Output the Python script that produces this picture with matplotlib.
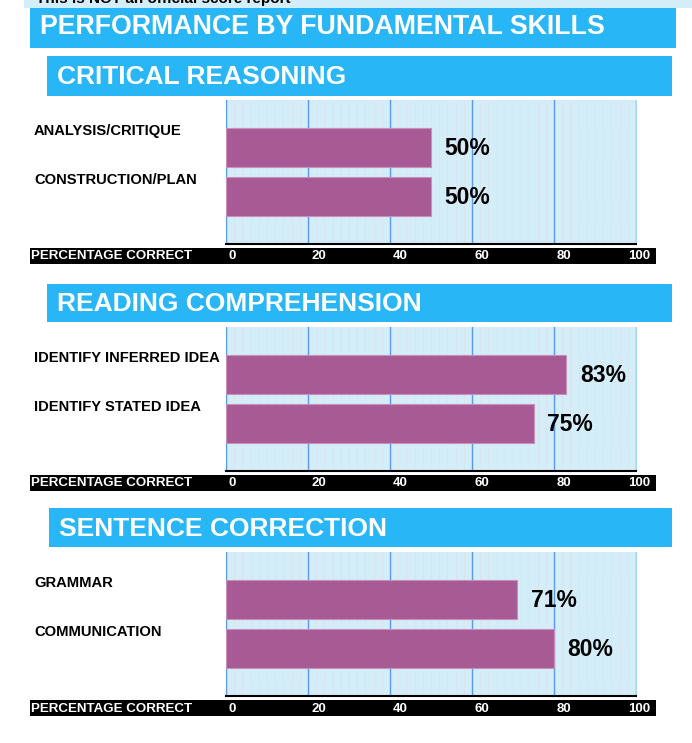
import matplotlib

matplotlib.use("Agg")
import matplotlib.pyplot as plt
from matplotlib.patches import Rectangle
from matplotlib.transforms import blended_transform_factory, offset_copy

W, H = 692, 743

# data
title = "PERFORMANCE BY FUNDAMENTAL SKILLS"
notice = "This is NOT an official score report"
section_titles = ["CRITICAL REASONING", "READING COMPREHENSION", "SENTENCE CORRECTION"]
cr_labels = ["ANALYSIS/CRITIQUE", "CONSTRUCTION/PLAN"]
cr_values = [50, 50]
rc_labels = ["IDENTIFY INFERRED IDEA", "IDENTIFY STATED IDEA"]
rc_values = [83, 75]
sc_labels = ["GRAMMAR", "COMMUNICATION"]
sc_values = [71, 80]
x_ticks = [0, 20, 40, 60, 80, 100]
axis_label = "PERCENTAGE CORRECT"

BANNER = "#29b6f6"
PALE = "#d4eef9"
BAR = "#a85a94"
GRID = "#5b96f0"
BOLD = ["Liberation Sans", "DejaVu Sans"]


def box(x0, y0, x1, y1):
    return [x0 / W, 1 - y1 / H, (x1 - x0) / W, (y1 - y0) / H]


def rect(fig, x0, y0, x1, y1, color):
    l, b, w, h = box(x0, y0, x1, y1)
    fig.patches.append(Rectangle((l, b), w, h, transform=fig.transFigure,
                                 facecolor=color, edgecolor="none", zorder=0))


fig = plt.figure(figsize=(W / 100, H / 100), dpi=100)
fig.patch.set_facecolor("white")

# top notice strip (partly hidden above the top edge, as in the source)
rect(fig, 24, 0, 692, 8, PALE)
fig.text(36 / W, 1 + 1 / H, notice, fontsize=11, fontweight="bold", family=BOLD,
         ha="left", va="center", color="black")

# main banner
rect(fig, 30, 8, 676, 48, BANNER)
fig.text(40 / W, 1 - 27 / H, title, fontsize=19.3, fontweight="bold", family=BOLD,
         color="white", ha="left", va="center")

sections = [
    (section_titles[0], cr_labels, cr_values, (47, 56, 672, 96), 100),
    (section_titles[1], rc_labels, rc_values, (47, 284, 672, 322), 327),
    (section_titles[2], sc_labels, sc_values, (49, 508, 672, 547), 552),
]

for name, labels, values, bbox, top in sections:
    bx0, by0, bx1, by1 = bbox
    rect(fig, bx0, by0, bx1, by1, BANNER)
    fig.text((bx0 + 10) / W, 1 - ((by0 + by1) / 2 + 1) / H, name, fontsize=19,
             fontweight="bold", family=BOLD, color="white", ha="left", va="center")

    ax = fig.add_axes(box(226, top, 636, top + 144))
    ax.set_facecolor(PALE)
    pos = list(range(len(labels)))
    ax.barh(pos, values, height=0.8, color=BAR, edgecolor="#c98fbb", linewidth=0.8, zorder=3)
    pad = 28 / 49
    ax.set_ylim(len(labels) - 0.6 + pad, -0.4 - pad)
    ax.set_xlim(0, 100)

    ax.set_xticks(x_ticks)
    ax.set_xticks(range(0, 101, 2), minor=True)
    ax.grid(True, axis="x", which="major", color=GRID, linewidth=1.0, zorder=1)
    ax.grid(True, axis="x", which="minor", color="#e3d6e2", linestyle=(0, (1, 1.5)),
            linewidth=0.8, zorder=0.5)
    ax.tick_params(axis="both", which="both", length=0, labelbottom=False, labelleft=False)
    for s in ["top", "left"]:
        ax.spines[s].set_visible(False)
    ax.spines["right"].set_color("#a9d8f2")
    ax.spines["bottom"].set_color("black")
    ax.spines["bottom"].set_linewidth(1.5)

    # category labels, sitting near top of each bar
    lab_tr = blended_transform_factory(fig.transFigure, ax.transData)
    for p, lab in zip(pos, labels):
        ax.text(34 / W, p - 0.33, lab, transform=lab_tr, fontsize=10.6, fontweight="bold",
                family=BOLD, ha="left", va="center", color="black")

    # value labels
    for p, v in zip(pos, values):
        ax.text(v + 3.3, p + 0.02, f"{v}%", fontsize=16.5, fontweight="bold", family=BOLD,
                ha="left", va="center", color="black", zorder=4)

    # black axis strip
    strip_top = top + 148
    rect(fig, 30, strip_top, 656, strip_top + 16, "black")
    fig.text(31 / W, 1 - (strip_top + 8.5) / H, axis_label, fontsize=9.6, fontweight="bold",
             family=BOLD, color="white", ha="left", va="center")
    tick_tr = blended_transform_factory(ax.transData, fig.transFigure)
    for t in x_ticks:
        if t == 100:
            tr = offset_copy(tick_tr, fig=fig, x=14, y=0, units="dots")
            ha = "right"
        else:
            tr = offset_copy(tick_tr, fig=fig, x=3, y=0, units="dots")
            ha = "left"
        fig.text(t, 1 - (strip_top + 8.5) / H, str(t), transform=tr, fontsize=9.5,
                 fontweight="bold", family=BOLD, color="white", ha=ha, va="center")

fig.savefig("out.png", dpi=100)
